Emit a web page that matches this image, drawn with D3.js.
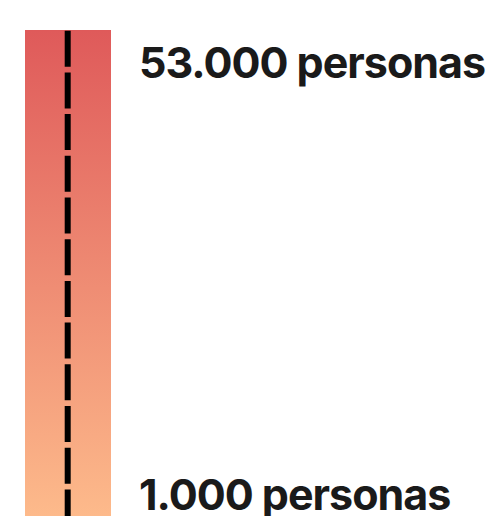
<!DOCTYPE html>
<html>
<head>
<meta charset="utf-8">
<script src="https://cdn.jsdelivr.net/npm/d3@7"></script>
<style>
  html, body { margin: 0; padding: 0; background: #fff; }
  svg { display: block; }
  .label { font-family: Inter, "Liberation Sans", sans-serif; font-weight: 700; fill: #1a1a1a; letter-spacing: -1px; }
</style>
</head>
<body>
<svg id="chart" width="500" height="516"></svg>
<script>
// legend extent (people)
const legendValues = [53000, 1000]
const legendUnit = 'personas'
const gradientColors = ['#df5a5a', '#fdba8b']

const width = 500
const height = 516

const es = d3.formatLocale({ decimal: ',', thousands: '.', grouping: [3], currency: ['', ' €'] })
const fmt = es.format(',')

const svg = d3.select('#chart')

// value -> label baseline
const y = d3.scaleLinear()
  .domain(d3.extent(legendValues).reverse())
  .range([78, 509.5])

const defs = svg.append('defs')
const grad = defs.append('linearGradient')
  .attr('id', 'legendGrad')
  .attr('x1', 0).attr('y1', 0).attr('x2', 0).attr('y2', 1)
grad.selectAll('stop')
  .data(gradientColors)
  .join('stop')
  .attr('offset', (d, i) => i / (gradientColors.length - 1))
  .attr('stop-color', (d) => d)

const barTop = 30
svg.append('rect')
  .attr('x', 25)
  .attr('y', barTop)
  .attr('width', 86)
  .attr('height', height - barTop)
  .attr('fill', 'url(#legendGrad)')

svg.append('line')
  .attr('x1', 67.7).attr('x2', 67.7)
  .attr('y1', barTop + 0.7).attr('y2', height)
  .attr('stroke', '#000')
  .attr('stroke-width', 6)
  .attr('stroke-dasharray', '36,5.7')

svg.append('g')
  .selectAll('text')
  .data(legendValues)
  .join('text')
  .attr('class', 'label')
  .attr('x', 139)
  .attr('y', (d) => y(d))
  .style('font-size', '43px')
  .text((d) => fmt(d) + ' ' + legendUnit)
</script>
</body>
</html>
